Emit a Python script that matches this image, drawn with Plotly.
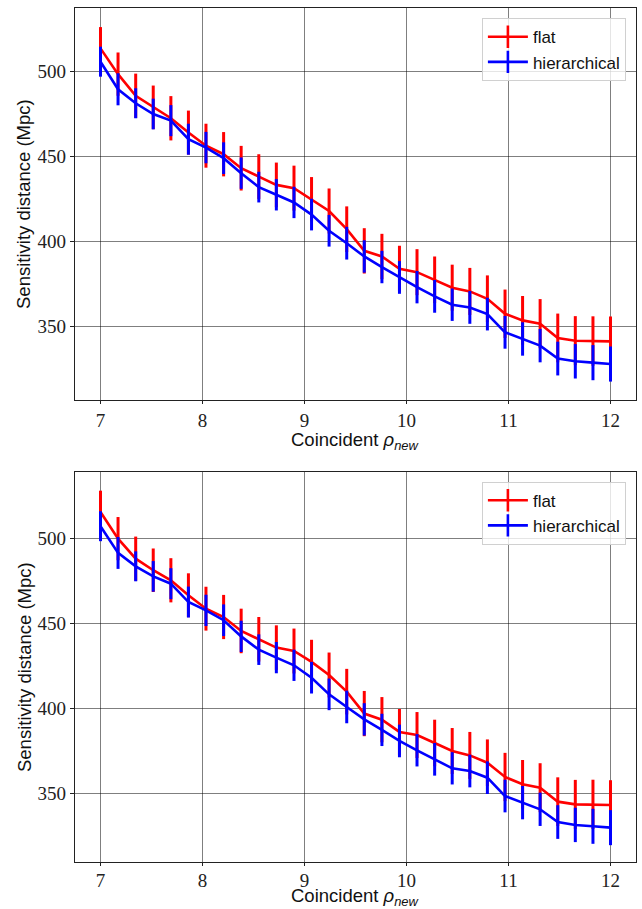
import plotly.graph_objects as go

rho = [7.0, 7.172, 7.345, 7.517, 7.690, 7.862, 8.034, 8.207, 8.379, 8.552,
       8.724, 8.897, 9.069, 9.241, 9.414, 9.586, 9.759, 9.931, 10.103, 10.276,
       10.448, 10.621, 10.793, 10.966, 11.138, 11.310, 11.483, 11.655, 11.828, 12.0]

flat_top = [513.3, 498.2, 485.5, 478.7, 472.3, 463.9, 456.2, 451.2, 443.0, 438.1,
            433.2, 431.3, 424.8, 417.9, 407.2, 394.5, 391.2, 384.0, 382.0, 377.5,
            372.9, 370.7, 366.4, 357.6, 353.7, 351.8, 343.4, 341.8, 341.6, 341.4]
hier_top = [505.5, 489.3, 481.1, 474.8, 470.9, 460.0, 455.1, 448.9, 440.1, 431.9,
            427.4, 422.9, 415.8, 406.3, 399.0, 391.2, 385.0, 378.9, 373.2, 367.8,
            362.9, 361.3, 357.4, 346.7, 342.8, 338.9, 331.3, 329.7, 328.9, 328.1]

flat_bot = [515.7, 500.0, 488.2, 481.4, 475.5, 466.7, 458.8, 453.9, 445.7, 440.8,
            435.9, 433.9, 427.5, 419.8, 410.0, 397.1, 393.5, 386.3, 384.5, 379.8,
            375.1, 372.5, 368.2, 359.8, 355.5, 353.5, 345.3, 343.7, 343.7, 343.3]
hier_bot = [507.3, 491.6, 483.7, 477.8, 473.5, 462.7, 457.8, 452.0, 442.5, 434.7,
            430.0, 425.5, 418.2, 408.4, 401.0, 393.7, 387.5, 381.0, 375.5, 370.2,
            364.9, 363.3, 359.4, 348.6, 344.7, 340.8, 333.3, 331.6, 330.8, 330.0]

flat_err = [12.5, 12.7, 13.0, 12.8, 13.0, 12.9, 12.9, 13.0, 13.1, 13.1,
            13.1, 13.2, 13.0, 13.2, 13.4, 13.3, 13.3, 13.5, 13.5, 13.7,
            13.5, 13.8, 13.7, 14.2, 14.3, 14.4, 14.3, 14.4, 14.5, 14.6]
hier_err = [8.8, 9.4, 8.8, 9.0, 9.1, 9.1, 9.2, 9.3, 9.2, 9.0,
            9.2, 9.2, 9.3, 9.3, 9.6, 9.5, 9.5, 9.6, 9.5, 9.6,
            9.5, 9.6, 9.6, 9.6, 9.8, 9.8, 9.9, 10.1, 10.3, 10.3]

x_ticks = [7, 8, 9, 10, 11, 12]
y_ticks = [350, 400, 450, 500]

names = ["flat", "hierarchical"]
colors = ["#ff0000", "#0000ff"]
x_label = "Coincident <i>ρ</i><sub><i>new</i></sub>"
y_label = "Sensitivity distance (Mpc)"

panels = [
    dict(flat=flat_top, hier=hier_top, xa="x", ya="y", legend="legend", yr=[307.0, 537.0]),
    dict(flat=flat_bot, hier=hier_bot, xa="x2", ya="y2", legend="legend2", yr=[309.8, 539.2]),
]

fig = go.Figure()
for p in panels:
    for name, col, ys, err in [(names[0], colors[0], p["flat"], flat_err),
                               (names[1], colors[1], p["hier"], hier_err)]:
        fig.add_trace(go.Scatter(
            x=rho, y=ys, mode="lines", xaxis=p["xa"], yaxis=p["ya"],
            line=dict(color=col, width=2.6), showlegend=False,
            error_y=dict(type="data", array=err, visible=True, color=col,
                         thickness=3, width=0),
        ))
        fig.add_trace(go.Scatter(
            x=[None], y=[None], mode="lines+markers", xaxis=p["xa"], yaxis=p["ya"],
            name=name, legend=p["legend"],
            line=dict(color=col, width=2.6),
            marker=dict(symbol="line-ns", size=22, line=dict(color=col, width=2.6)),
        ))

tickfont = dict(family="Liberation Serif", size=19, color="#222")
titlefont = dict(family="Liberation Sans", size=18.5, color="#111")
grid = "rgba(0,0,0,0.5)"

common_x = dict(range=[6.75, 12.25], tickvals=x_ticks, ticktext=[str(t) for t in x_ticks],
                showgrid=True, gridcolor=grid, gridwidth=1, zeroline=False,
                showline=True, linecolor="#222", linewidth=1.3, mirror=True,
                ticks="outside", ticklen=3, tickcolor="#222", tickfont=tickfont)
common_y = dict(tickvals=y_ticks, ticktext=[str(t) for t in y_ticks],
                showgrid=True, gridcolor=grid, gridwidth=1, zeroline=False,
                showline=True, linecolor="#222", linewidth=1.3, mirror=True,
                ticks="outside", ticklen=4, tickcolor="#222", tickfont=tickfont)

legend_style = dict(bgcolor="rgba(255,255,255,0.8)", bordercolor="#d0d0d0", borderwidth=1,
                    font=dict(family="Liberation Sans", size=17, color="#111"),
                    xanchor="right", yanchor="top", x=0.982, itemwidth=40,
                    tracegroupgap=0)

annotations = [
    dict(text=x_label, x=0.5, y=0.4925, xref="paper", yref="paper",
         xanchor="center", yanchor="middle", showarrow=False, font=titlefont),
    dict(text=x_label, x=0.5, y=-0.0405, xref="paper", yref="paper",
         xanchor="center", yanchor="middle", showarrow=False, font=titlefont),
    dict(text=y_label, x=-0.0909, y=0.7705, xref="paper", yref="paper", textangle=-90,
         xanchor="center", yanchor="middle", showarrow=False, font=titlefont),
    dict(text=y_label, x=-0.0909, y=0.2283, xref="paper", yref="paper", textangle=-90,
         xanchor="center", yanchor="middle", showarrow=False, font=titlefont),
]

fig.update_layout(
    width=642, height=909,
    margin=dict(l=75, r=6, t=8, b=47),
    paper_bgcolor="white", plot_bgcolor="white",
    xaxis=dict(common_x, anchor="y", domain=[0, 1]),
    yaxis=dict(common_y, anchor="x", domain=[0.541, 1.0], range=panels[0]["yr"]),
    xaxis2=dict(common_x, anchor="y2", domain=[0, 1], ticklabelstandoff=-2),
    yaxis2=dict(common_y, anchor="x2", domain=[0.0, 0.4567], range=panels[1]["yr"]),
    legend=dict(legend_style, y=0.988),
    legend2=dict(legend_style, y=0.4453),
    annotations=annotations,
)

fig.write_html("out.html")
